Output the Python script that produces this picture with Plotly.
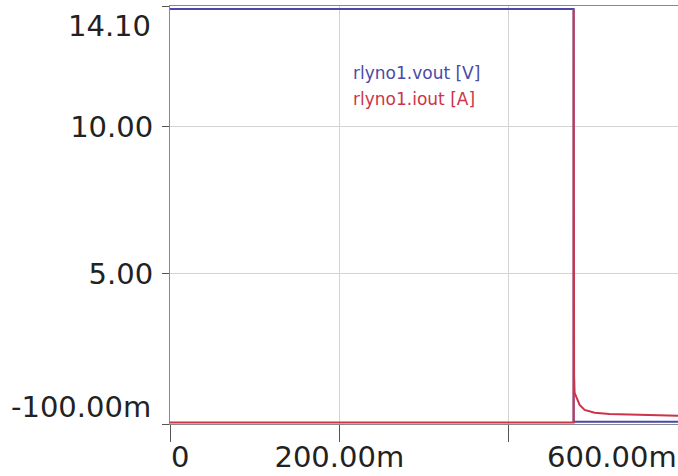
import plotly.graph_objects as go

# ---- data ----
t_vout = [0.0, 0.4767, 0.47672, 0.6]
vout = [14.0, 14.0, -0.02, -0.02]

t_iout = [0.0, 0.4767, 0.47672, 0.47685, 0.4770, 0.4773, 0.4779, 0.4838,
          0.4897, 0.5015, 0.5190, 0.5550, 0.6000]
iout = [-0.05, -0.05, 14.0, 3.6, 2.4, 1.5, 0.96, 0.55,
        0.38, 0.28, 0.24, 0.21, 0.18]

series_names = ["rlyno1.vout [V]", "rlyno1.iout [A]"]
series_colors = ["#4a4aa6", "#cc3448"]

x_tickvals = [0.0, 0.2, 0.4, 0.6]
x_ticktext = ["0", "200.00m", "", "600.00m"]
y_tickvals = [-0.1, 5.0, 10.0, 14.1]
y_ticktext = ["-100.00m", "5.00", "10.00", "14.10"]

FONT = "DejaVu Sans"
TXT = "#222222"

fig = go.Figure()
fig.add_trace(go.Scatter(x=t_vout, y=vout, mode="lines", name=series_names[0],
                         line=dict(color=series_colors[0], width=2), cliponaxis=False))
fig.add_trace(go.Scatter(x=t_iout, y=iout, mode="lines", name=series_names[1],
                         line=dict(color=series_colors[1], width=2), cliponaxis=False))

# middle tick labels come from the axes; edge labels are shifted inward like the reference
edge_x = (x_tickvals[0], x_tickvals[-1])
edge_y = (y_tickvals[0], y_tickvals[-1])

fig.update_layout(
    width=678, height=476,
    margin=dict(l=170, r=0, t=6, b=52, autoexpand=False),
    paper_bgcolor="white", plot_bgcolor="white",
    showlegend=False,
    font=dict(family=FONT, size=29, color=TXT),
    xaxis=dict(
        range=[0, 0.6], tickvals=x_tickvals,
        ticktext=["" if v in edge_x else s for v, s in zip(x_tickvals, x_ticktext)],
        ticks="outside", ticklen=17, tickcolor="#555555", tickwidth=1,
        showgrid=True, gridcolor="#d4d4d4", gridwidth=1,
        showline=True, linecolor="#888888", linewidth=1, mirror=True,
        zeroline=False, tickfont=dict(family=FONT, size=29, color=TXT),
        ticklabelstandoff=-10, automargin=False,
    ),
    yaxis=dict(
        range=[-0.1, 14.1], tickvals=y_tickvals,
        ticktext=["" if v in edge_y else s for v, s in zip(y_tickvals, y_ticktext)],
        ticks="outside", ticklen=7, tickcolor="#555555", tickwidth=1,
        showgrid=True, gridcolor="#d4d4d4", gridwidth=1,
        showline=True, linecolor="#888888", linewidth=1,
        zeroline=False, tickfont=dict(family=FONT, size=29, color=TXT),
        ticklabelstandoff=3, automargin=False,
    ),
)

# edge tick labels
fig.add_annotation(x=x_tickvals[0], y=0, xref="x", yref="paper", text=x_ticktext[0],
                   xanchor="left", yanchor="middle", yshift=-33, showarrow=False,
                   font=dict(family=FONT, size=29, color=TXT), borderpad=0)
fig.add_annotation(x=x_tickvals[-1], y=0, xref="x", yref="paper", text=x_ticktext[-1],
                   xanchor="right", yanchor="middle", yshift=-33, showarrow=False,
                   font=dict(family=FONT, size=29, color=TXT), borderpad=0)
fig.add_annotation(x=0, y=y_tickvals[-1], xref="paper", yref="y", text=y_ticktext[-1],
                   xanchor="right", yanchor="middle", xshift=-18, yshift=-20, showarrow=False,
                   font=dict(family=FONT, size=29, color=TXT), borderpad=0)
fig.add_annotation(x=0, y=y_tickvals[0], xref="paper", yref="y", text=y_ticktext[0],
                   xanchor="right", yanchor="middle", xshift=-18, yshift=17, showarrow=False,
                   font=dict(family=FONT, size=29, color=TXT), borderpad=0)

# legend as coloured text
for i, (nm, col) in enumerate(zip(series_names, series_colors)):
    fig.add_annotation(x=0.358, y=1 - (67 + 26 * i) / 418, xref="paper", yref="paper",
                       text=nm, xanchor="left", yanchor="middle", showarrow=False,
                       font=dict(family=FONT, size=17, color=col), borderpad=0)

fig.write_html("out.html", config={"displayModeBar": False},
               post_script="document.body.style.margin='0';document.body.style.overflow='hidden';")
